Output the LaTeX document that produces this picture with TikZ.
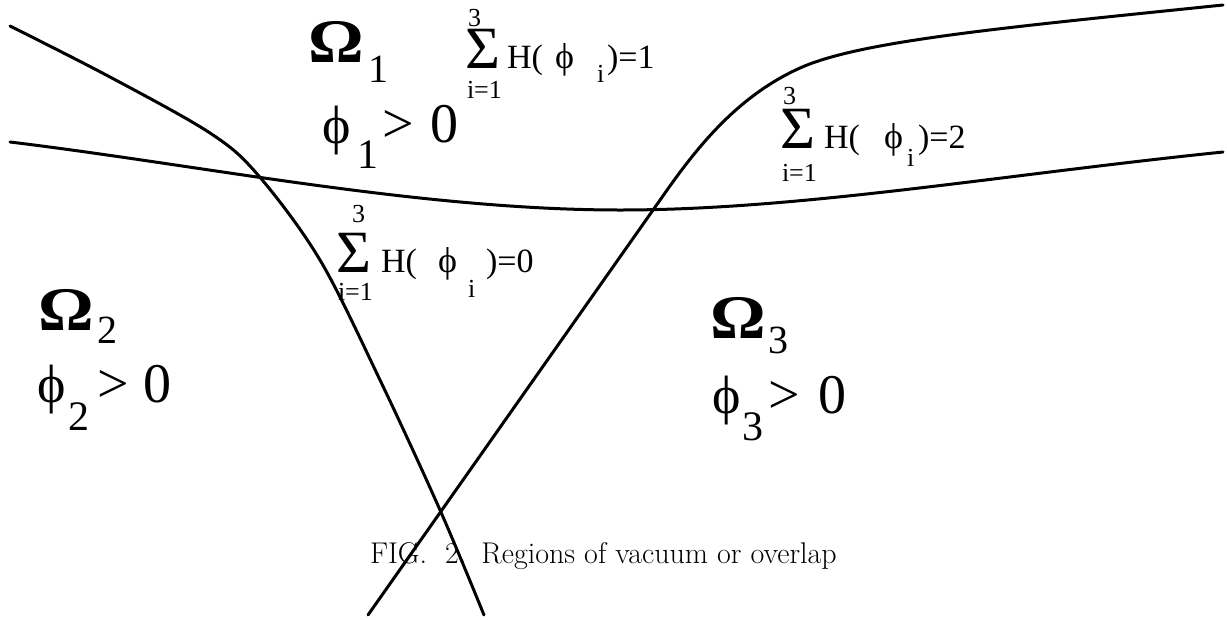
\documentclass[tikz,border=0pt]{standalone}
\usepackage{fontspec}
\newfontfamily\tnr{Liberation Serif}
\begin{document}
\begin{tikzpicture}[x=1pt,y=-1pt,
  curve/.style={line width=3pt, line cap=round, line join=round},
  txt/.style={inner sep=0pt, outer sep=0pt, anchor=base west},
  omega/.style={txt, font=\tnr\bfseries\fontsize{62}{66}\selectfont},
  osub/.style={txt, font=\tnr\fontsize{40}{44}\selectfont},
  relt/.style={txt, font=\tnr\fontsize{56}{60}\selectfont},
  phibig/.style={txt, font=\tnr\fontsize{54}{58}\selectfont},
  psub/.style={txt, font=\tnr\fontsize{42}{46}\selectfont},
  sig/.style={txt, font=\tnr\fontsize{60}{64}\selectfont},
  limt/.style={txt, font=\tnr\fontsize{26}{28}\selectfont},
  hv/.style={txt, font=\tnr\fontsize{34}{38}\selectfont},
  phis/.style={txt, font=\tnr\fontsize{36}{38}\selectfont},
  isub/.style={txt, font=\tnr\fontsize{26}{28}\selectfont},
  captxt/.style={txt, font=\fontsize{30}{32}\selectfont}]
\useasboundingbox[fill=white] (0,0) rectangle (1227,619);
% curves
\draw[curve] plot[smooth, tension=0.55] coordinates {(10,26) (110,77) (210,133) (258,175) (320,260) (380,380) (440,510) (484,615)};
\draw[curve] (368,615) -- (665,193) .. controls (700,143) and (740,95) .. (800,68) .. controls (860,41) and (1000,28) .. (1223,5);
\draw[curve] (10,142) .. controls (200,165) and (420,210) .. (620,210) .. controls (800,210) and (1000,175) .. (1223,152);
% Omega 1
\node[omega] (om1) at (308,62) {\scalebox{1.12}[1]{Ω}};
\node[osub] (om1s) at (368,82) {1};
\node[phibig] (ph1) at (322,143) {ϕ};
\node[psub] (ph1s) at (357,168) {1};
\node[relt] (gt1) at (382,142) {>};
\node[relt] (z1) at (430,142) {0};
% Omega 2
\node[omega] (om2) at (38,330) {\scalebox{1.12}[1]{Ω}};
\node[osub] (om2s) at (97,343) {2};
\node[phibig] (ph2) at (37,402) {ϕ};
\node[psub] (ph2s) at (68,430) {2};
\node[relt] (gt2) at (97,402) {>};
\node[relt] (z2) at (143,402) {0};
% Omega 3
\node[omega] (om3) at (710,338) {\scalebox{1.12}[1]{Ω}};
\node[osub] (om3s) at (768,353) {3};
\node[phibig] (ph3) at (712,413) {ϕ};
\node[psub] (ph3s) at (742,440) {3};
\node[relt] (gt3) at (768,413) {>};
\node[relt] (z3) at (818,413) {0};
% sum label 1
\node[sig] (s1) at (465,68) {Σ};
\node[limt] (s1t) at (468,26) {3};
\node[limt] (s1b) at (467,98) {i=1};
\node[hv] (h1) at (507,68) {H(};
\node[phis] (f1) at (555,68) {ϕ};
\node[isub] (i1) at (597,82) {i};
\node[hv] (e1) at (607,68) {)=1};
% sum label 2
\node[sig] (s2) at (780,148) {Σ};
\node[limt] (s2t) at (783,104) {3};
\node[limt] (s2b) at (782,181) {i=1};
\node[hv] (h2) at (824,148) {H(};
\node[phis] (f2) at (884,148) {ϕ};
\node[isub] (i2) at (907,166) {i};
\node[hv] (e2) at (918,148) {)=2};
% sum label 3
\node[sig] (s3) at (336,272) {Σ};
\node[limt] (s3t) at (352,222) {3};
\node[limt] (s3b) at (338,300) {i=1};
\node[hv] (h3) at (381,272) {H(};
\node[phis] (f3) at (438,272) {ϕ};
\node[isub] (i3) at (468,297) {i};
\node[hv] (e3) at (486,272) {)=0};
% caption
\node[captxt] (capn) at (370,563) {FIG.\hspace{0.6em}2.\hspace{0.5em}Regions of vacuum or overlap};
\end{tikzpicture}
\end{document}
